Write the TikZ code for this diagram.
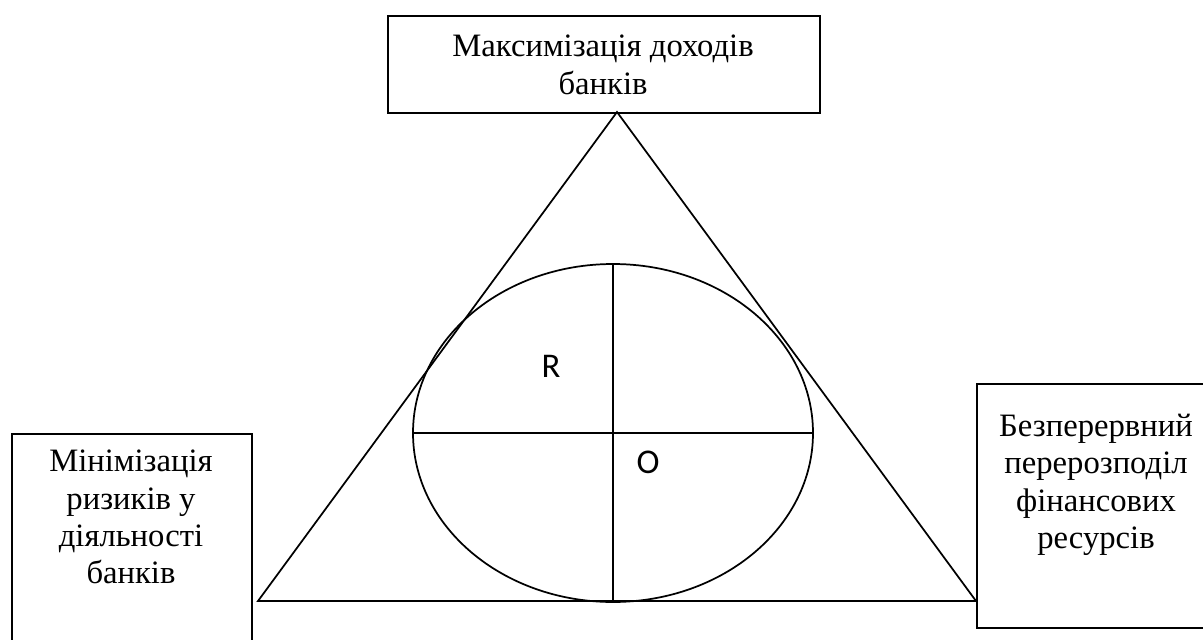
\documentclass[tikz,border=0pt]{standalone}
\usepackage{fontspec}
\setmainfont{Liberation Serif}
\newfontfamily\calib{Carlito}
\usetikzlibrary{shapes.geometric}
\tikzset{
  boxshape/.style={draw, line width=1.5pt, rectangle, inner sep=0pt},
  boxtext/.style={font=\fontsize{24.5}{28}\selectfont, align=center, inner sep=0pt},
  thinline/.style={line width=1.3pt},
  letter/.style={font=\calib\fontsize{26}{30}\selectfont, inner sep=0pt}
}
\begin{document}
\begin{tikzpicture}[x=0.75pt,y=-0.75pt]
\useasboundingbox (0,0) rectangle (1203,639);
\clip (0,0) rectangle (1203,639);
% boxes
\node[boxshape, minimum width=324pt, minimum height=72.75pt, anchor=north west] (top) at (387,15) {};
\node[boxshape, minimum width=180pt, minimum height=180pt, anchor=north west] (left) at (11,433) {};
\node[boxshape, minimum width=180pt, minimum height=183pt, anchor=north west] (right) at (976,383) {};
% texts
\node[boxtext] (toptext) at (603,65) {Максимізація доходів\\банків};
\node[boxtext, anchor=north] (lefttext) at (131,450) {Мінімізація\\ризиків у\\діяльності\\банків};
\node[boxtext, anchor=north] (righttext) at (1096,414) {Безперервний\\перерозподіл\\фінансових\\ресурсів};
% triangle
\coordinate (A) at (617,112);
\coordinate (B) at (258,601);
\coordinate (C) at (976,601);
\draw[thinline] (A) -- (B) -- (C) -- cycle;
% ellipse
\node[draw, thinline, ellipse, inner sep=0pt, minimum width=300pt, minimum height=253.5pt] (ell) at (613,433) {};
\draw[thinline] (ell.north) -- (ell.south);
\draw[thinline] (ell.west) -- (ell.east);
\node[letter] (R) at (551,366) {R};
\node[letter] (O) at (648,462) {O};
\end{tikzpicture}
\end{document}
